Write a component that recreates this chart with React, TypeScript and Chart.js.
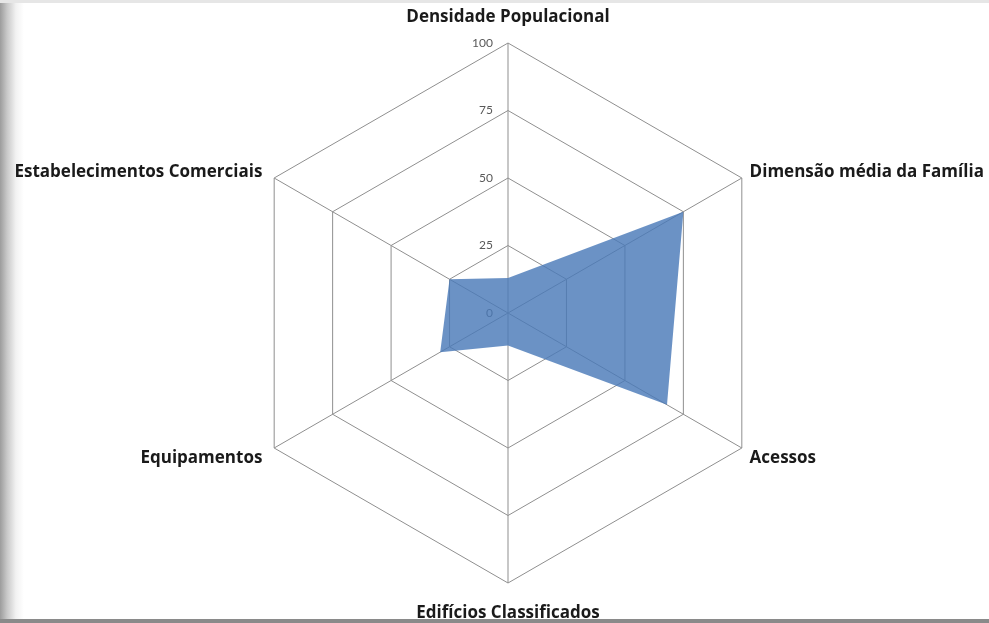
import React, { useEffect, useRef } from "react";
import { Chart, registerables } from "chart.js";

Chart.register(...registerables);

const categories = [
  "Densidade Populacional",
  "Dimensão média da Família",
  "Acessos",
  "Edifícios Classificados",
  "Equipamentos",
  "Estabelecimentos Comerciais",
];
const values = [13, 75, 68, 12, 29, 25];
const tickValues = [0, 25, 50, 75, 100];

const labelFont = "bold 17px 'Open Sans'";
const tickFont = "12px Lato";

const customLabels = {
  id: "customLabels",
  beforeDatasetsDraw(chart: any) {
    const scale = chart.scales.r;
    const ctx = chart.ctx;
    ctx.save();
    ctx.font = tickFont;
    ctx.fillStyle = "#595959";
    ctx.textAlign = "right";
    ctx.textBaseline = "middle";
    tickValues.forEach((v) => {
      const p = scale.getPointPositionForValue(0, v);
      ctx.fillText(String(v), p.x - 15, p.y);
    });
    ctx.restore();
  },
  afterDraw(chart: any) {
    const scale = chart.scales.r;
    const ctx = chart.ctx;
    ctx.save();
    ctx.font = labelFont;
    ctx.fillStyle = "#1a1a1a";
    ctx.textBaseline = "middle";
    const n = categories.length;
    categories.forEach((label, i) => {
      const isVertical = i === 0 || i === n / 2;
      const p = scale.getPointPosition(i, scale.drawingArea + (isVertical ? 27 : 9));
      let x = p.x;
      if (isVertical) {
        ctx.textAlign = "center";
      } else if (p.x > scale.xCenter) {
        ctx.textAlign = "left";
      } else {
        ctx.textAlign = "right";
        x -= 4;
      }
      let y = p.y;
      if (!isVertical) y += p.y > scale.yCenter ? 6 : -1;
      if (isVertical) y += i === 0 ? 1 : 3;
      ctx.fillText(label, x, y);
    });
    ctx.restore();
  },
};

export default function App() {
  const ref = useRef<HTMLCanvasElement>(null);
  useEffect(() => {
    if (!ref.current) return;
    const chart = new Chart(ref.current, {
      type: "radar",
      data: {
        labels: categories,
        datasets: [
          {
            data: values,
            backgroundColor: "rgba(74,122,184,0.82)",
            borderWidth: 0,
            pointRadius: 0,
            fill: true,
          },
        ],
      },
      options: {
        responsive: false,
        animation: false,
        layout: { padding: { top: 43, bottom: 40, left: 100, right: 73 } },
        plugins: { legend: { display: false }, tooltip: { enabled: false } },
        scales: {
          r: {
            min: 0,
            max: 100,
            ticks: { display: false, stepSize: 25 },
            pointLabels: { display: false },
            grid: { color: "#8f8f8f", lineWidth: 1 },
            angleLines: { color: "#8f8f8f", lineWidth: 1 },
          },
        },
      },
      plugins: [customLabels],
    });
    return () => chart.destroy();
  }, []);
  return (
    <div
      style={{
        position: "absolute",
        left: 0,
        top: 0,
        width: 989,
        height: 623,
        boxSizing: "border-box",
        borderTop: "3px solid #e6e6e6",
        borderBottom: "4px solid #8a8a8a",
        background: "linear-gradient(to right, #9c9c9c 0px, #c8c8c8 7px, #f2f2f2 16px, #ffffff 24px)",
        overflow: "hidden",
      }}
    >
      <canvas ref={ref} width={989} height={623} style={{ position: "absolute", left: 0, top: -3 }} />
    </div>
  );
}
